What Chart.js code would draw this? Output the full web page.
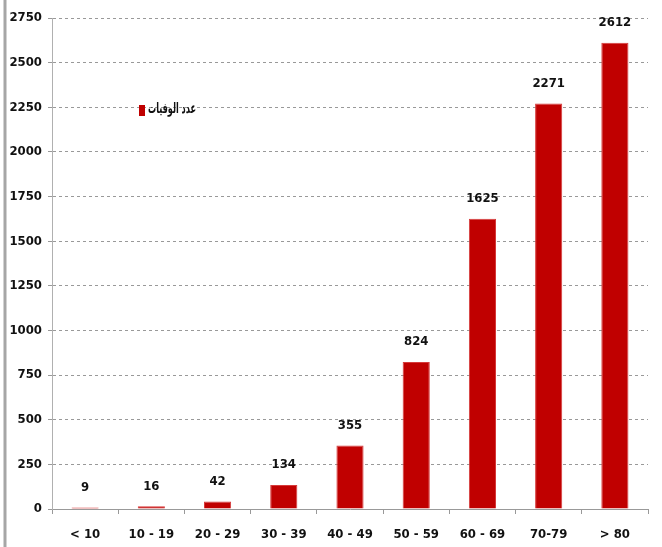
<!DOCTYPE html>
<html>
<head>
<meta charset="utf-8">
<script src="https://cdn.jsdelivr.net/npm/chart.js@4/dist/chart.umd.min.js"></script>
<style>
  html, body { margin: 0; padding: 0; background: #fff; }
  #box { width: 662px; height: 547px; }
</style>
</head>
<body>
<div id="box"><canvas id="deaths"></canvas></div>
<script>
'use strict';

const ageGroups = ['< 10', '10 - 19', '20 - 29', '30 - 39', '40 - 49', '50 - 59', '60 - 69', '70-79', '> 80'];
const deaths = [9, 16, 42, 134, 355, 824, 1625, 2271, 2612];
const seriesName = 'عدد الوفيات';
const yMax = 2750;
const yStep = 250;

const narrow = "'Liberation Sans Narrow', 'DejaVu Sans Condensed', 'Liberation Sans', sans-serif";

// grey frame line on the left side of the picture
const framePlugin = {
  id: 'frame',
  beforeDraw(chart) {
    const ctx = chart.ctx;
    ctx.save();
    ctx.fillStyle = '#fff';
    ctx.fillRect(0, 0, chart.width, chart.height);
    ctx.strokeStyle = '#a6a6a6';
    ctx.lineWidth = 3;
    ctx.beginPath();
    ctx.moveTo(5, 0);
    ctx.lineTo(5, chart.height);
    ctx.stroke();
    ctx.restore();
  }
};

// numbers above each bar
const valuePlugin = {
  id: 'values',
  afterDatasetsDraw(chart) {
    const ctx = chart.ctx;
    const meta = chart.getDatasetMeta(0);
    ctx.save();
    ctx.font = 'bold 13px ' + narrow;
    ctx.fillStyle = '#111';
    ctx.textAlign = 'center';
    ctx.textBaseline = 'middle';
    meta.data.forEach((bar, i) => {
      ctx.fillText(String(deaths[i]), bar.x, bar.y - 20);
    });
    ctx.restore();
  }
};

// small legend inside the plot
const legendPlugin = {
  id: 'miniLegend',
  afterDraw(chart) {
    const ctx = chart.ctx;
    ctx.save();
    ctx.fillStyle = '#c00000';
    ctx.fillRect(139, 105, 6, 11);
    ctx.font = "bold 15px 'DejaVu Sans Condensed', 'DejaVu Sans', sans-serif";
    ctx.fillStyle = '#111';
    ctx.textBaseline = 'middle';
    ctx.direction = 'rtl';
    ctx.textAlign = 'right';
    const w = ctx.measureText(seriesName).width;
    const k = Math.min(1, 48 / w);
    ctx.translate(148, 109);
    ctx.scale(k, 1);
    ctx.fillText(seriesName, w, 0);
    ctx.restore();
  }
};

const ctx = document.getElementById('deaths').getContext('2d');
let deathsChart = new Chart(ctx, {
  type: 'bar',
  data: {
    labels: ageGroups,
    datasets: [{
      label: seriesName,
      data: deaths,
      backgroundColor: '#c00000',
      borderColor: '#d63a3a',
      borderWidth: 1,
      borderSkipped: 'bottom',
      barPercentage: 0.41,
      categoryPercentage: 1
    }]
  },
  options: {
    responsive: true,
    maintainAspectRatio: false,
    animation: false,
    layout: { padding: { top: 18, right: 14, left: 0, bottom: 0 } },
    plugins: {
      legend: { display: false },
      tooltip: { enabled: false }
    },
    scales: {
      x: {
        afterFit(scale) { scale.height = 38; },
        grid: {
          drawOnChartArea: false,
          drawTicks: true,
          tickLength: 5,
          color: '#999',
          offset: true
        },
        border: { color: '#999', width: 1 },
        ticks: {
          color: '#111',
          padding: 13,
          font: { family: narrow, size: 13, weight: 'bold' }
        }
      },
      y: {
        min: 0,
        max: yMax,
        afterFit(scale) { scale.width = 52; },
        grid: {
          color: '#999',
          tickLength: 4,
          lineWidth: 1
        },
        border: { color: '#b0b0b0', width: 1, dash: [3, 3] },
        ticks: {
          stepSize: yStep,
          color: '#111',
          padding: 6,
          font: { family: narrow, size: 13, weight: 'bold' },
          callback: (v) => String(v)
        }
      }
    }
  },
  plugins: [framePlugin, valuePlugin, legendPlugin]
});
</script>
</body>
</html>
